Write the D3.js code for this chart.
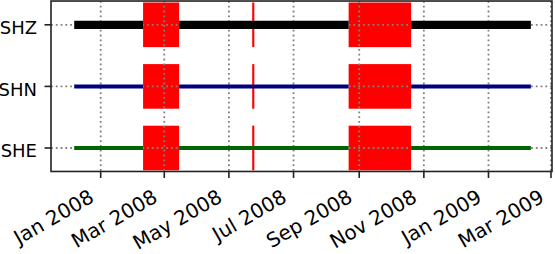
<!DOCTYPE html>
<html><head><meta charset="utf-8">
<script src="https://cdn.jsdelivr.net/npm/d3@7"></script>
<style>body{margin:0;background:#fff} svg{display:block}</style>
</head><body><svg id="c" width="555" height="254"></svg>
<script>
// ---- data ----
const channels = ["SHE", "SHN", "SHZ"];
const segmentStarts = ["2007-12-07", "2008-03-15", "2008-10-20"];
const segmentEnds   = ["2008-02-10", "2008-08-22", "2009-02-10"];
const gapStarts = ["2008-02-10", "2008-05-23", "2008-08-22"];
const gapEnds   = ["2008-03-15", "2008-05-25", "2008-10-20"];
const tickDates  = ["2008-01-01", "2008-03-01", "2008-05-01", "2008-07-01", "2008-09-01", "2008-11-01", "2009-01-01", "2009-03-01"];
const tickLabels = ["Jan 2008", "Mar 2008", "May 2008", "Jul 2008", "Sep 2008", "Nov 2008", "Jan 2009", "Mar 2009"];

// ---- styles ----
const lineColor = {SHE: "#006400", SHN: "#000080", SHZ: "#000000"};
const lineWidth = {SHE: 4, SHN: 4, SHZ: 8.3};
const font = "'DejaVu Sans', sans-serif";

const parse = d3.utcParse("%Y-%m-%d");
const svg = d3.select("#c");

const x = d3.scaleUtc().domain([parse("2008-01-01"), parse("2009-03-01")]).range([100.7, 551]);
const y = d3.scaleLinear().domain([0, 2]).range([148, 24.8]);
const yIndex = d => channels.indexOf(d);

const L = 51, R = 552, T = y(2.386), B = y(-0.381);
const half = 0.362;

// gap rectangles
const g = svg.append("g");
channels.forEach(ch => {
  gapStarts.forEach((s, i) => {
    const x0 = x(parse(s)), x1 = x(parse(gapEnds[i]));
    g.append("rect")
      .attr("x", x0).attr("width", Math.max(1.8, x1 - x0))
      .attr("y", y(yIndex(ch) + half)).attr("height", y(yIndex(ch) - half) - y(yIndex(ch) + half))
      .attr("fill", "#ff0000");
  });
});

// grid
const grid = svg.append("g").attr("stroke", "#808080").attr("stroke-width", 1.8).attr("stroke-dasharray", "1.8,3");
tickDates.forEach(t => {
  const xv = x(parse(t));
  grid.append("line").attr("x1", xv).attr("x2", xv).attr("y1", T).attr("y2", B);
});
channels.forEach(ch => {
  const yv = y(yIndex(ch));
  grid.append("line").attr("x1", L).attr("x2", R).attr("y1", yv).attr("y2", yv);
});

// lines
const lg = svg.append("g");
channels.forEach(ch => {
  segmentStarts.forEach((s, i) => {
    lg.append("line")
      .attr("x1", x(parse(s))).attr("x2", x(parse(segmentEnds[i])))
      .attr("y1", y(yIndex(ch))).attr("y2", y(yIndex(ch)))
      .attr("stroke", lineColor[ch]).attr("stroke-width", lineWidth[ch]);
  });
});

// frame
svg.append("rect").attr("x", L).attr("y", T).attr("width", R - L).attr("height", B - T)
  .attr("fill", "none").attr("stroke", "#222").attr("stroke-width", 1.6);

// x ticks + labels
const ax = svg.append("g");
tickDates.forEach((t, i) => {
  const xv = x(parse(t));
  ax.append("line").attr("x1", xv).attr("x2", xv).attr("y1", B).attr("y2", B + 6.5)
    .attr("stroke", "#222").attr("stroke-width", 1.6);
  ax.append("text")
    .attr("transform", `translate(${xv - 5.5},${B + 29.5}) rotate(-30)`)
    .attr("text-anchor", "end")
    .attr("font-family", font).attr("font-size", 20).attr("fill", "#000")
    .text(tickLabels[i]);
});

// y ticks + labels
channels.forEach(ch => {
  const yv = y(yIndex(ch));
  ax.append("line").attr("x1", L - 6.5).attr("x2", L).attr("y1", yv).attr("y2", yv)
    .attr("stroke", "#222").attr("stroke-width", 1.6);
  ax.append("text").attr("x", 37).attr("y", yv + 9.2)
    .attr("text-anchor", "end")
    .attr("font-family", font).attr("font-size", 18).attr("fill", "#000")
    .text(ch);
});
</script>
</body></html>
